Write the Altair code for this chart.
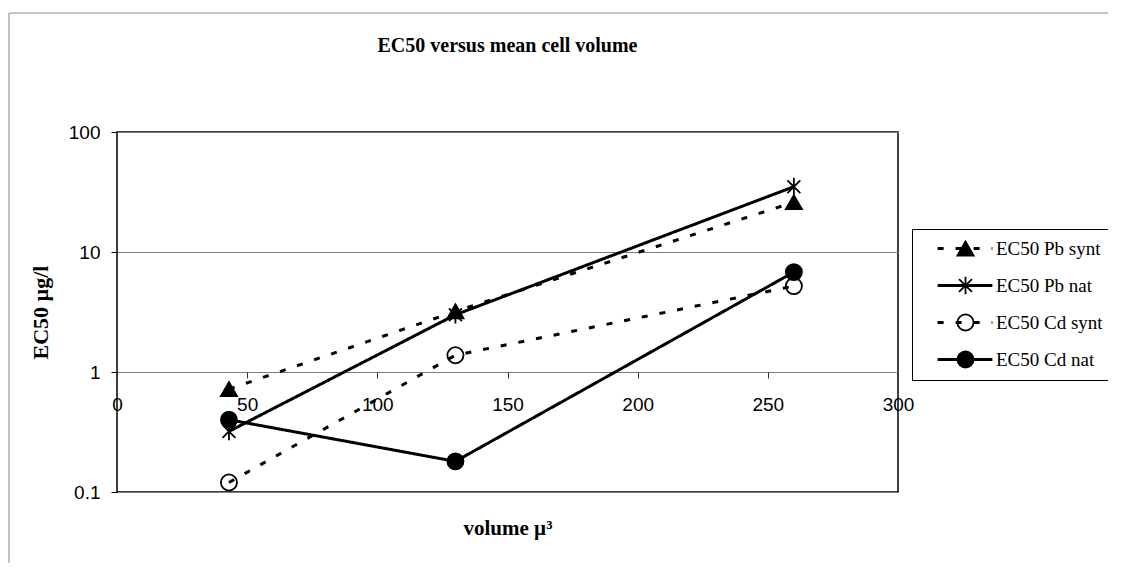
import altair as alt
import pandas as pd

# ---- data ----
volume = [43, 130, 260]
series_names = ["EC50 Pb synt", "EC50 Pb nat", "EC50 Cd synt", "EC50 Cd nat"]
pb_synt = [0.72, 3.2, 26.0]
pb_nat = [0.32, 3.0, 35.0]
cd_synt = [0.12, 1.38, 5.2]
cd_nat = [0.40, 0.18, 6.8]
x_ticks = [0, 50, 100, 150, 200, 250, 300]
y_ticks = [0.1, 1, 10, 100]

# marker keys (separate field so the marker legend is laid over the line legend)
marker_keys = [n + " marker" for n in series_names]

rows = []
for name, mk, vals in zip(series_names, marker_keys, [pb_synt, pb_nat, cd_synt, cd_nat]):
    for v, y in zip(volume, vals):
        rows.append({"volume": v, "value": y, "series": name, "marker": mk})
df = pd.DataFrame(rows)

asterisk = "M0,-1.1L0,1.1M-0.8,-0.8L0.8,0.8M-0.8,0.8L0.8,-0.8"
dash_range = [[6, 12], [1, 0], [6, 12], [1, 0]]
shape_range = ["triangle-up", asterisk, "circle", "circle"]
fill_range = ["black", "transparent", "transparent", "black"]
stroke_range = ["black", "black", "black", "black"]
size_range = [260, 260, 190, 200]

W, H = 781, 360
SERIF = "Liberation Serif"
SANS = "Liberation Sans"

x_enc = alt.X(
    "volume:Q",
    scale=alt.Scale(domain=[0, 300], nice=False, zero=False),
    axis=alt.Axis(
        values=x_ticks, offset=-120, domain=False, grid=False,
        tickSize=6, tickColor="#333", tickWidth=1,
        labelFont=SANS, labelFontSize=19, labelColor="black",
        labelPadding=17, labelFlush=False, labelOverlap=False,
        title="volume µ³", titleFont=SERIF, titleFontSize=21,
        titleFontWeight="bold", titleColor="black",
        titleX=W / 2, titleY=156, titleBaseline="middle", titleAlign="center",
    ),
)
y_enc = alt.Y(
    "value:Q",
    scale=alt.Scale(type="log", domain=[0.1, 100], nice=False),
    axis=alt.Axis(
        values=y_ticks, format="~g", grid=True, gridColor="#7a7a7a",
        gridWidth=1, domain=False, tickSize=6, tickColor="black",
        labelFont=SANS, labelFontSize=19, labelColor="black",
        labelPadding=11, labelFlush=False, labelOverlap=False,
        title="EC50 µg/l", titleFont=SERIF, titleFontSize=22,
        titleFontWeight="bold", titleColor="black",
        titleX=-77, titleY=H / 2, titleBaseline="middle", titleAlign="center",
        titleAngle=270,
    ),
)

line_legend = alt.Legend(
    orient="none", legendX=795, legendY=97, title=None,
    symbolType="stroke", symbolSize=3000, symbolStrokeWidth=3,
    symbolStrokeColor="black", symbolOffset=14,
    labelOffset=2, labelFont=SERIF, labelFontSize=19, labelColor="black",
    clipHeight=19, rowPadding=17, padding=10,
    strokeColor="black",
)
marker_legend = alt.Legend(
    orient="none", legendX=795, legendY=97, title=None,
    symbolStrokeWidth=1.8, symbolOpacity=1, symbolOffset=34,
    labelExpr="''", labelFontSize=19, clipHeight=19, rowPadding=17,
    padding=10,
)

lines = alt.Chart(df).mark_line(color="black", strokeWidth=3, strokeCap="butt").encode(
    x=x_enc, y=y_enc,
    strokeDash=alt.StrokeDash(
        "series:N",
        scale=alt.Scale(domain=series_names, range=dash_range),
        legend=line_legend,
    ),
)

points = alt.Chart(df).mark_point(strokeWidth=1.8, opacity=1).encode(
    x=x_enc, y=y_enc,
    shape=alt.Shape(
        "marker:N",
        scale=alt.Scale(domain=marker_keys, range=shape_range),
        legend=marker_legend,
    ),
    fill=alt.Fill(
        "marker:N",
        scale=alt.Scale(domain=marker_keys, range=fill_range),
        legend=marker_legend,
    ),
    stroke=alt.Stroke(
        "marker:N",
        scale=alt.Scale(domain=marker_keys, range=stroke_range),
        legend=marker_legend,
    ),
    size=alt.Size(
        "marker:N",
        scale=alt.Scale(domain=marker_keys, range=size_range),
        legend=marker_legend,
    ),
)

frame = alt.Chart(pd.DataFrame({"f": [0]})).mark_rect(
    fillOpacity=0, stroke="#8a8a8a", strokeWidth=1
).encode(
    x=alt.value(-108), x2=alt.value(1300), y=alt.value(-119), y2=alt.value(800)
)

chart = alt.layer(frame, lines, points).properties(
    width=W, height=H,
    title=alt.TitleParams(
        "EC50 versus mean cell volume", font=SERIF, fontSize=20,
        fontWeight="bold", color="black", anchor="middle", offset=-43,
    ),
    autosize=alt.AutoSizeParams(type="none"),
    padding={"left": 109, "top": 124, "right": 210, "bottom": 71},
).configure_view(
    stroke="black", strokeWidth=1.5
)

chart.save("out.html", embed_options={"renderer": "svg", "actions": False})
